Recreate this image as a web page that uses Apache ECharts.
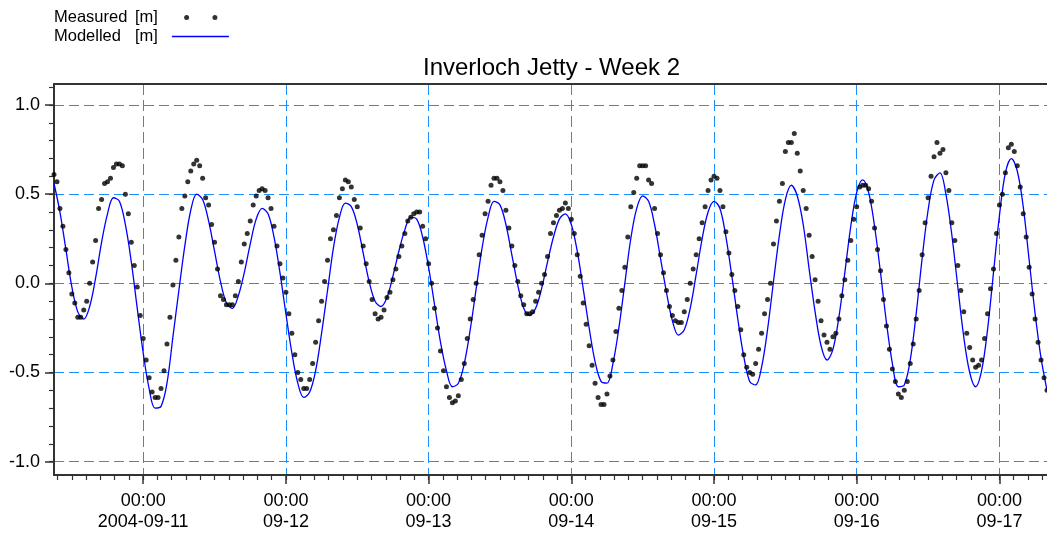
<!DOCTYPE html>
<html><head><meta charset="utf-8">
<script src="https://cdn.jsdelivr.net/npm/echarts@6/dist/echarts.min.js"></script>
<style>html,body{margin:0;padding:0;background:#fff}#c{width:1047px;height:535px}</style>
</head><body><div id="c"></div>
<script>
const chartTitle = 'Inverloch Jetty - Week 2';
const seriesNames = ['Measured [m]', 'Modelled  [m]'];

// Measured water level, every 30 min from 2004-09-10 09:00
const measuredStart = '2004-09-10T09:00:00Z';
const measuredStepMin = 30;
const measured = [
  0.61, 0.57, 0.42, 0.32, 0.19, 0.06, -0.06, -0.11, -0.19, -0.19, -0.15, -0.10,
  0.00, 0.12, 0.24, 0.42, 0.47, 0.56, 0.57, 0.59, 0.65, 0.67, 0.67, 0.66,
  0.50, 0.39, 0.23, 0.10, -0.02, -0.18, -0.31, -0.43, -0.53, -0.61, -0.64, -0.64,
  -0.59, -0.49, -0.34, -0.19, -0.01, 0.13, 0.26, 0.42, 0.49, 0.57, 0.63, 0.67,
  0.69, 0.66, 0.59, 0.48, 0.44, 0.33, 0.23, 0.08, -0.07, -0.09, -0.12, -0.12,
  -0.12, -0.07, 0.01, 0.12, 0.22, 0.28, 0.35, 0.44, 0.49, 0.52, 0.53, 0.52,
  0.48, 0.42, 0.32, 0.21, 0.11, 0.03, -0.05, -0.17, -0.28, -0.40, -0.50, -0.54,
  -0.59, -0.59, -0.54, -0.45, -0.33, -0.21, -0.10, 0.01, 0.13, 0.25, 0.30, 0.38,
  0.48, 0.53, 0.58, 0.57, 0.54, 0.47, 0.43, 0.31, 0.21, 0.11, 0.01, -0.09,
  -0.17, -0.20, -0.19, -0.15, -0.08, -0.05, 0.02, 0.08, 0.15, 0.21, 0.28, 0.35,
  0.37, 0.39, 0.40, 0.40, 0.32, 0.25, 0.11, 0.00, -0.14, -0.25, -0.38, -0.49,
  -0.58, -0.64, -0.67, -0.66, -0.63, -0.54, -0.45, -0.31, -0.20, -0.09, 0.00, 0.16,
  0.27, 0.39, 0.46, 0.55, 0.59, 0.59, 0.57, 0.52, 0.41, 0.31, 0.21, 0.10,
  0.01, -0.07, -0.12, -0.17, -0.17, -0.16, -0.10, -0.05, 0.00, 0.05, 0.15, 0.28,
  0.34, 0.38, 0.41, 0.42, 0.45, 0.42, 0.36, 0.28, 0.16, 0.04, -0.11, -0.23,
  -0.35, -0.46, -0.56, -0.64, -0.68, -0.68, -0.62, -0.52, -0.43, -0.27, -0.14, -0.04,
  0.09, 0.26, 0.43, 0.51, 0.59, 0.66, 0.66, 0.66, 0.58, 0.56, 0.42, 0.28,
  0.16, 0.06, -0.04, -0.13, -0.18, -0.21, -0.22, -0.22, -0.16, -0.09, 0.00, 0.08,
  0.16, 0.25, 0.34, 0.43, 0.52, 0.58, 0.60, 0.59, 0.52, 0.43, 0.29, 0.17,
  0.05, -0.04, -0.13, -0.26, -0.40, -0.47, -0.50, -0.51, -0.45, -0.37, -0.28, -0.17,
  -0.09, 0.00, 0.22, 0.35, 0.46, 0.56, 0.74, 0.79, 0.79, 0.84, 0.73, 0.63,
  0.52, 0.42, 0.27, 0.15, 0.02, -0.10, -0.21, -0.29, -0.33, -0.37, -0.30, -0.28,
  -0.20, -0.07, 0.02, 0.13, 0.24, 0.36, 0.43, 0.54, 0.55, 0.55, 0.53, 0.46,
  0.31, 0.19, 0.07, -0.09, -0.24, -0.37, -0.48, -0.55, -0.62, -0.64, -0.60, -0.55,
  -0.45, -0.34, -0.20, -0.04, 0.16, 0.34, 0.48, 0.60, 0.71, 0.79, 0.73, 0.75,
  0.62, 0.52, 0.34, 0.24, 0.10, -0.04, -0.16, -0.28, -0.36, -0.43, -0.47, -0.46,
  -0.43, -0.31, -0.17, -0.03, 0.08, 0.28, 0.44, 0.50, 0.62, 0.76, 0.78, 0.74,
  0.66, 0.54, 0.39, 0.26, 0.09, -0.06, -0.20, -0.33, -0.43, -0.53, -0.60
];

// Modelled water level, hourly from 2004-09-10 09:00
const modelledStart = '2004-09-10T09:00:00Z';
const modelledStepMin = 60;
const modelled = [
  0.56, 0.40, 0.19, -0.02, -0.16, -0.20, -0.13, 0.03, 0.23, 0.39, 0.48, 0.46,
  0.33, 0.12, -0.14, -0.39, -0.59, -0.70, -0.69, -0.56, -0.30, -0.04, 0.21, 0.41,
  0.50, 0.47, 0.35, 0.18, 0.01, -0.11, -0.14, -0.07, 0.06, 0.22, 0.36, 0.42,
  0.39, 0.26, 0.06, -0.17, -0.39, -0.56, -0.64, -0.61, -0.49, -0.28, -0.04, 0.20,
  0.37, 0.45, 0.43, 0.33, 0.17, 0.01, -0.10, -0.13, -0.08, 0.04, 0.18, 0.30,
  0.37, 0.36, 0.26, 0.09, -0.12, -0.33, -0.49, -0.58, -0.56, -0.45, -0.26, -0.03,
  0.20, 0.37, 0.46, 0.44, 0.33, 0.16, -0.01, -0.14, -0.18, -0.14, -0.03, 0.12,
  0.26, 0.36, 0.39, 0.33, 0.18, -0.03, -0.25, -0.44, -0.55, -0.56, -0.45, -0.25,
  0.00, 0.25, 0.42, 0.49, 0.46, 0.33, 0.14, -0.05, -0.21, -0.29, -0.26, -0.14,
  0.05, 0.25, 0.40, 0.46, 0.42, 0.26, 0.04, -0.20, -0.41, -0.55, -0.57, -0.47,
  -0.26, 0.01, 0.27, 0.47, 0.55, 0.49, 0.33, 0.08, -0.16, -0.35, -0.43, -0.37,
  -0.19, 0.06, 0.32, 0.51, 0.58, 0.51, 0.32, 0.06, -0.22, -0.45, -0.58, -0.57,
  -0.43, -0.17, 0.14, 0.41, 0.58, 0.62, 0.50, 0.27, -0.02, -0.30, -0.50, -0.58,
  -0.49, -0.26, 0.06, 0.38, 0.62, 0.70, 0.63, 0.43, 0.13, -0.17, -0.42, -0.60
];

const xRange = ['2004-09-10T09:00:00Z', '2004-09-17T08:00:00Z'];
const dayTicks = ['2004-09-11', '2004-09-12', '2004-09-13', '2004-09-14', '2004-09-15', '2004-09-16', '2004-09-17'];
const dayTickLabels = ['00:00\n2004-09-11', '00:00\n09-12', '00:00\n09-13', '00:00\n09-14', '00:00\n09-15', '00:00\n09-16', '00:00\n09-17'];
const minorTickHours = 2.4;
const yTicks = [-1.0, -0.5, 0.0, 0.5, 1.0];
const yTickLabels = ['-1.0', '-0.5', '0.0', '0.5', '1.0'];
const yMinorStep = 0.1;
const yRange = [-1.075, 1.118];

const FONT = '"Liberation Sans", Arial, Helvetica, sans-serif';
const HOUR = 3600000;
const xMin = Date.parse(xRange[0]);
const xMax = Date.parse(xRange[1]);
const dayMs = dayTicks.map(d => Date.parse(d + 'T00:00:00Z'));

const measuredData = measured.map((v, i) => [Date.parse(measuredStart) + i * measuredStepMin * 60000, v]);
const modelledData = modelled.map((v, i) => [Date.parse(modelledStart) + i * modelledStepMin * 60000, v]);

const xMinor = [];
for (let t = dayMs[0] - 24 * HOUR; t <= xMax; t += minorTickHours * HOUR) {
  if (t >= xMin) xMinor.push(Math.round(t));
}
const yMinor = [];
for (let k = Math.ceil(yRange[0] / yMinorStep); k * yMinorStep <= yRange[1]; k++) {
  yMinor.push(+(k * yMinorStep).toFixed(2));
}

const AX = '#333333';
const GRIDC = '#1e8fff';
const OFF = { show: false };

const dotsIcon = 'path://M0 2.5l0.01 0l0 0.01z M57 2.5l-0.01 0l0 0.01z ' +
  'M12.2 2.5a2.5 2.5 0 1 0 5 0a2.5 2.5 0 1 0 -5 0z M40.5 2.5a2.5 2.5 0 1 0 5 0a2.5 2.5 0 1 0 -5 0z';
const lineIcon = 'path://M0 0l0.01 0l0 0.01z M0 5l0.01 0l0 -0.01z M0 1.85h57v1.3h-57z';

const chart = echarts.init(document.getElementById('c'), null, { renderer: 'canvas' });
chart.setOption({
  animation: false,
  backgroundColor: '#ffffff',
  title: {
    text: chartTitle,
    left: 423, top: 56, padding: 0,
    textStyle: { fontFamily: FONT, fontSize: 24, fontWeight: 'normal', color: '#000' }
  },
  legend: {
    orient: 'vertical', align: 'right',
    left: 54, top: 8, padding: 0, itemGap: 0,
    itemWidth: 57, itemHeight: 5,
    selectedMode: false,
    data: [
      { name: seriesNames[0], icon: dotsIcon },
      { name: seriesNames[1], icon: lineIcon }
    ],
    formatter: function (name) {
      const p = name.split(/\s+(?=\[)/);
      return '{a|' + p[0] + '}{b|' + p[1] + '}';
    },
    textStyle: {
      fontFamily: FONT, fontSize: 16.5, color: '#000', lineHeight: 19,
      padding: [0, 9, 0, 0],
      rich: {
        a: { fontFamily: FONT, fontSize: 16.5, color: '#000', width: 81, align: 'left', lineHeight: 19 },
        b: { fontFamily: FONT, fontSize: 16.5, color: '#000', align: 'left', lineHeight: 19 }
      }
    }
  },
  grid: { left: 54, right: 0, top: 84, bottom: 60, containLabel: false },
  xAxis: [
    {
      type: 'value', min: xMin, max: xMax, position: 'bottom',
      axisLine: { show: true, onZero: false, lineStyle: { color: AX, width: 2 } },
      axisTick: { show: true, customValues: dayMs, length: 9, lineStyle: { color: AX, width: 1.5 } },
      axisLabel: {
        show: true, customValues: dayMs, margin: 16,
        fontFamily: FONT, fontSize: 18, lineHeight: 21, color: '#000',
        formatter: function (v) {
          const i = dayMs.findIndex(d => Math.abs(d - v) < 1000);
          return i >= 0 ? dayTickLabels[i] : '';
        }
      },
      splitLine: { show: true, lineStyle: { color: GRIDC, width: 1, type: [11, 5] } },
      minorTick: OFF, minorSplitLine: OFF, splitArea: OFF
    },
    {
      type: 'value', min: xMin, max: xMax, position: 'bottom',
      axisLine: { show: false, onZero: false },
      axisTick: { show: true, customValues: xMinor, length: 5, lineStyle: { color: AX, width: 1.2 } },
      axisLabel: OFF, splitLine: OFF,
      minorTick: OFF, minorSplitLine: OFF, splitArea: OFF
    },
    {
      type: 'value', min: xMin, max: xMax, position: 'top',
      axisLine: { show: true, onZero: false, lineStyle: { color: AX, width: 2 } },
      axisTick: OFF, axisLabel: OFF, splitLine: OFF,
      minorTick: OFF, minorSplitLine: OFF, splitArea: OFF
    }
  ],
  yAxis: [
    {
      type: 'value', min: yRange[0], max: yRange[1], position: 'left',
      axisLine: { show: true, onZero: false, lineStyle: { color: AX, width: 2 } },
      axisTick: { show: true, customValues: yTicks, length: 9, lineStyle: { color: AX, width: 1.5 } },
      axisLabel: {
        show: true, customValues: yTicks, margin: 14,
        fontFamily: FONT, fontSize: 18, color: '#000',
        formatter: function (v) {
          const i = yTicks.findIndex(d => Math.abs(d - v) < 1e-6);
          return i >= 0 ? yTickLabels[i] : '';
        }
      },
      splitLine: { show: true, lineStyle: { color: GRIDC, width: 1, type: [10, 5] } },
      minorTick: OFF, minorSplitLine: OFF, splitArea: OFF
    },
    {
      type: 'value', min: yRange[0], max: yRange[1], position: 'left',
      axisLine: { show: false, onZero: false },
      axisTick: { show: true, customValues: yMinor, length: 5, lineStyle: { color: AX, width: 1.2 } },
      axisLabel: OFF, splitLine: OFF,
      minorTick: OFF, minorSplitLine: OFF, splitArea: OFF
    }
  ],
  series: [
    {
      name: seriesNames[1], type: 'line', data: modelledData,
      xAxisIndex: 0, yAxisIndex: 0,
      symbol: 'none', showSymbol: false, smooth: 0.35,
      lineStyle: { color: '#0000ff', width: 1.3 },
      itemStyle: { color: '#0000ff' },
      z: 3
    },
    {
      name: seriesNames[0], type: 'scatter', data: measuredData,
      xAxisIndex: 0, yAxisIndex: 0,
      symbol: 'circle', symbolSize: 5, clip: false,
      itemStyle: { color: '#000000' },
      z: 4
    }
  ]
});
</script>
</body></html>
